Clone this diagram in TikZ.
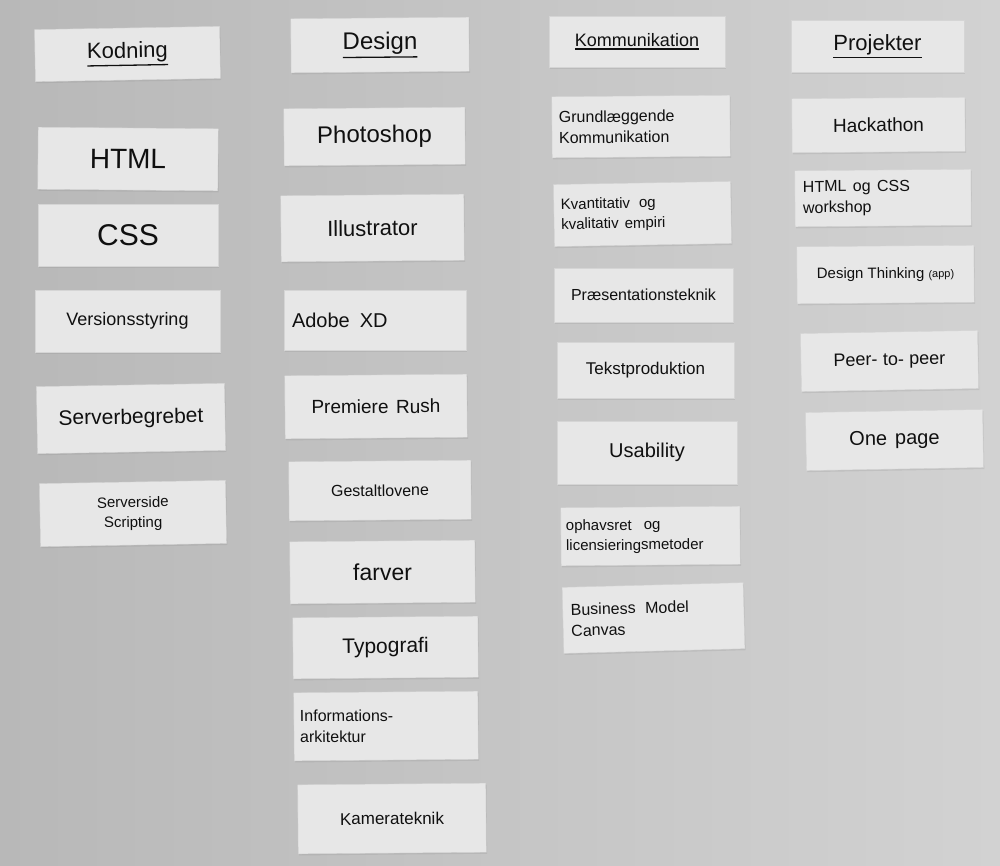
\documentclass[tikz,border=0pt]{standalone}
\usepackage{fontspec}
\setmainfont{Liberation Sans}
\usetikzlibrary{shadows}
\definecolor{walllight}{HTML}{D2D2D2}
\definecolor{walldark}{HTML}{B8B8B8}
\definecolor{paper}{HTML}{E7E7E7}
\definecolor{ink}{HTML}{101010}
\tikzset{
  slip/.style={fill=paper, draw=paper!92!black, line width=0.4pt, inner sep=4pt,
    text=ink, align=center,
    drop shadow={opacity=0.18, shadow xshift=0.8pt, shadow yshift=-1.6pt}},
}
\newcommand\hul[1]{\leavevmode\vtop{\hbox{#1}\kern2pt\hrule height 1.3pt\relax}}
% name, x1, y1, x2, y2, rotation, font size, text
\newcommand\mkslip[8]{%
  \pgfmathsetlengthmacro\slipw{(#4-#2)*1pt}%
  \pgfmathsetlengthmacro\sliph{(#5-#3)*1pt}%
  \node[slip, rotate=#6, minimum width=\slipw, minimum height=\sliph,
    font={\fontsize{#7}{\number\numexpr#7*13/10\relax}\selectfont}]
    (#1) at ({(#2+#4)/2},{(#3+#5)/2}) {#8};}
\newcommand\mkslipl[9]{%
  \pgfmathsetlengthmacro\slipw{(#4-#2)*1pt}%
  \pgfmathsetlengthmacro\sliph{(#5-#3)*1pt}%
  \pgfmathsetlengthmacro\sliptw{(#4-#2-#9)*1pt}%
  \node[slip, rotate=#6, minimum width=\slipw, minimum height=\sliph,
    text width=\sliptw, align=left,
    font={\fontsize{#7}{\number\numexpr#7*13/10\relax}\selectfont}]
    (#1) at ({(#2+#4)/2},{(#3+#5)/2}) {#8};}
\begin{document}
\begin{tikzpicture}[x=1pt,y=-1pt]
\useasboundingbox (0,0) rectangle (1000,865);
\shade[shading=axis, shading angle=45, left color=walldark, right color=walllight] (0,0) rectangle (1000,865);
% Kodning column
\mkslip{kod}{35}{28}{220}{80}{1}{22}{\hul{Kodning}}
\mkslip{html}{38}{128}{218}{190}{-0.5}{28}{HTML}
\mkslip{css}{38}{204}{218}{266}{0}{30}{CSS}
\mkslip{vers}{35}{290}{220}{352}{0}{18}{Versionsstyring}
\mkslip{serv}{37}{385}{225}{452}{1}{21}{Serverbegrebet}
\mkslip{sside}{40}{482}{226}{545}{1}{15}{Serverside\\Scripting}
% Design column
\mkslip{des}{291}{18}{469}{72}{0.5}{24}{\hul{Design}}
\mkslip{ps}{284}{108}{465}{165}{0.5}{24}{Photoshop}
\mkslip{ill}{281}{195}{464}{261}{0.5}{22}{Illustrator}
\mkslipl{xd}{284}{290}{466}{350}{0}{20}{Adobe\hspace{0.5em}XD}{16}
\mkslip{pr}{285}{375}{467}{438}{0.5}{19}{Premiere\hspace{0.4em}Rush}
\mkslip{ges}{289}{461}{471}{520}{0.5}{16}{Gestaltlovene}
\mkslip{farv}{290}{541}{475}{603}{0.5}{23}{farver}
\mkslip{typ}{293}{617}{478}{678}{0.5}{21}{Typografi}
\mkslipl{info}{294}{692}{478}{760}{0.5}{16}{Informations-\\arkitektur}{12}
\mkslip{kam}{298}{784}{486}{853}{0.5}{17}{Kamerateknik}
% Kommunikation column
\mkslip{kom}{549}{16}{725}{67}{0}{18}{\hul{Kommunikation}}
\mkslipl{grund}{552}{96}{730}{157}{0.5}{16}{Grundlæggende\\Kommunikation}{14}
\mkslipl{kvan}{554}{183}{731}{245}{1}{15}{Kvantitativ\hspace{0.6em}og\\kvalitativ\hspace{0.4em}empiri}{14}
\mkslip{praes}{554}{268}{733}{322}{0}{16}{Præsentationsteknik}
\mkslip{tekst}{557}{342}{734}{398}{0}{17}{Tekstproduktion}
\mkslip{usab}{557}{421}{737}{484}{0}{20}{Usability}
\mkslipl{ophav}{561}{507}{740}{565}{0.5}{15}{ophavsret\hspace{0.8em}og\\licensieringsmetoder}{10}
\mkslipl{bmc}{563}{585}{744}{651}{1.5}{16}{Business\hspace{0.6em}Model\\Canvas}{16}
% Projekter column
\mkslip{proj}{791}{20}{964}{72}{0}{22}{\hul{Projekter}}
\mkslip{hack}{792}{98}{965}{152}{0.5}{19}{Hackathon}
\mkslipl{hcw}{795}{170}{971}{226}{0.5}{16}{HTML\hspace{0.4em}og\hspace{0.4em}CSS\\workshop}{16}
\mkslip{dt}{797}{246}{974}{303}{0.5}{15}{Design Thinking {\fontsize{11}{13}\selectfont(app)}}
\mkslip{p2p}{801}{332}{978}{390}{1}{18}{Peer-\hspace{0.3em}to-\hspace{0.3em}peer}
\mkslip{one}{806}{411}{983}{469}{1}{20}{One\hspace{0.4em}page}
\end{tikzpicture}
\end{document}
